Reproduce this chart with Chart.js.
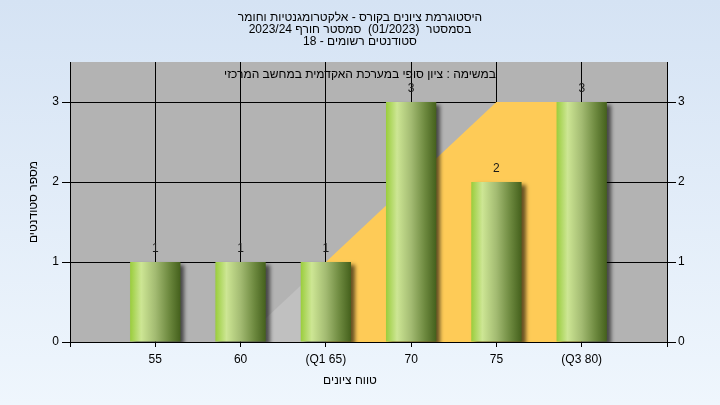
<!DOCTYPE html>
<html>
<head>
<meta charset="utf-8">
<script src="https://cdn.jsdelivr.net/npm/chart.js@4.4.1/dist/chart.umd.min.js"></script>
<style>
html,body{margin:0;padding:0;background:#e3edf8;}
#wrap{width:720px;height:405px;}
</style>
</head>
<body>
<div id="wrap"><canvas id="c" width="720" height="405"></canvas></div>
<script>
// ---- data ----
const categories = [55, 60, 65, 70, 75, 80];
const tickLabels = ['55', '60', '(Q1 65)', '70', '75', '(Q3 80)'];
const counts = [1, 1, 1, 3, 2, 3];
// background area (outside interquartile range)
const outerAreaX = [60, 65];
const outerAreaY = [0, 1];
// interquartile area
const iqrAreaX = [65, 75, 80, 80];
const iqrAreaY = [1, 3, 3, 0];
const yTicks = [0, 1, 2, 3];

const titleLines = [
  'היסטוגרמת ציונים בקורס - אלקטרומגנטיות וחומר',
  'בסמסטר  (01/2023)  סמסטר חורף 2023/24',
  'סטודנטים רשומים - 18'
];
const innerText = 'במשימה : ציון סופי במערכת האקדמית במחשב המרכזי';
const xTitle = 'טווח ציונים';
const yTitle = 'מספר סטודנטים';

const FONT = "'Liberation Sans', Arial, 'DejaVu Sans', sans-serif";
Chart.defaults.font.family = FONT;
Chart.defaults.font.size = 12;
Chart.defaults.color = '#000';

const BAR_PCT = 0.59;

function barGradient(ctx) {
  const chart = ctx.chart;
  const xs = chart.scales && chart.scales.x;
  if (!xs || ctx.dataIndex == null) return '#9c3';
  const v = categories[ctx.dataIndex];
  const half = 5 * BAR_PCT / 2;
  const x0 = xs.getPixelForValue(v - half);
  const x1 = xs.getPixelForValue(v + half);
  if (!isFinite(x0) || !isFinite(x1)) return '#9c3';
  const g = chart.ctx.createLinearGradient(x0, 0, x1, 0);
  g.addColorStop(0, '#9acd3c');
  g.addColorStop(0.22, '#cde694');
  g.addColorStop(0.5, '#a3bb72');
  g.addColorStop(0.78, '#6c883e');
  g.addColorStop(1, '#44601c');
  return g;
}

const bgPlugin = {
  id: 'bg',
  beforeDraw(chart) {
    const {ctx, width, height, chartArea: a} = chart;
    ctx.save();
    const g = ctx.createLinearGradient(0, 0, 0, height);
    g.addColorStop(0, '#d5e3f4');
    g.addColorStop(1, '#eff6fd');
    ctx.fillStyle = g;
    ctx.fillRect(0, 0, width, height);
    ctx.fillStyle = '#b3b3b3';
    ctx.fillRect(a.left, a.top, a.right - a.left, a.bottom - a.top);
    ctx.fillStyle = '#000';
    ctx.font = '12px ' + FONT;
    ctx.textAlign = 'center';
    ctx.textBaseline = 'middle';
    ctx.fillText(innerText, width / 2, a.top + 13);
    // x axis title
    ctx.fillText(xTitle, width / 2 - 10, height - 24);
    ctx.restore();
  }
};

const shadowPlugin = {
  id: 'shadow',
  beforeDatasetDraw(chart, args) {
    if (args.meta.type !== 'bar') return;
    const ctx = chart.ctx;
    ctx.save();
    ctx.shadowColor = 'rgba(0,0,0,0.6)';
    ctx.shadowBlur = 4;
    ctx.shadowOffsetX = 4;
    ctx.shadowOffsetY = 3;
  },
  afterDatasetDraw(chart, args) {
    if (args.meta.type !== 'bar') return;
    chart.ctx.restore();
  }
};

const labelPlugin = {
  id: 'vlabels',
  afterDatasetsDraw(chart) {
    const ctx = chart.ctx;
    chart.data.datasets.forEach((ds, di) => {
      const meta = chart.getDatasetMeta(di);
      if (meta.type !== 'bar') return;
      meta.data.forEach((el, i) => {
        ctx.save();
        ctx.fillStyle = '#1a1a1a';
        ctx.font = '12px ' + FONT;
        ctx.textAlign = 'center';
        ctx.textBaseline = 'bottom';
        ctx.fillText(String(counts[i]), el.x, el.y - 7);
        ctx.restore();
      });
    });
  }
};

const yCommon = {
  type: 'linear', min: 0, max: 3.5,
  ticks: {
    stepSize: 1, includeBounds: false, color: '#000', font: {size: 12},
    callback: v => (yTicks.includes(v) ? String(v) : '')
  },
  border: {color: '#000', width: 1}
};

new Chart(document.getElementById('c'), {
  type: 'bar',
  data: {
    datasets: [
      {
        type: 'bar',
        data: categories.map((c, i) => ({x: c, y: counts[i]})),
        backgroundColor: barGradient,
        borderWidth: 0,
        categoryPercentage: 1,
        barPercentage: BAR_PCT,
        order: 0
      },
      {
        type: 'line',
        data: outerAreaX.map((x, i) => ({x, y: outerAreaY[i]})),
        borderWidth: 0,
        borderColor: 'rgba(0,0,0,0)',
        backgroundColor: '#c0c0c0',
        fill: 'origin',
        pointRadius: 0,
        tension: 0,
        order: 2
      },
      {
        type: 'line',
        data: iqrAreaX.map((x, i) => ({x, y: iqrAreaY[i]})),
        borderWidth: 0,
        borderColor: 'rgba(0,0,0,0)',
        backgroundColor: '#fecb57',
        fill: 'origin',
        pointRadius: 0,
        tension: 0,
        order: 1
      }
    ]
  },
  options: {
    responsive: false,
    animation: false,
    layout: {padding: 0},
    plugins: {
      legend: {display: false},
      tooltip: {enabled: false},
      title: {
        display: true,
        text: titleLines,
        color: '#000',
        font: {size: 12, weight: 'normal', lineHeight: 1},
        padding: {top: 12, bottom: 14}
      }
    },
    scales: {
      x: {
        type: 'linear', min: 50, max: 85, offset: false,
        ticks: {
          stepSize: 5, autoSkip: false, maxRotation: 0, padding: 5, color: '#000',
          font: {size: 12},
          callback: v => { const i = categories.indexOf(v); return i < 0 ? '' : tickLabels[i]; }
        },
        grid: {color: '#000', lineWidth: 1, tickLength: 5, tickColor: '#000', offset: false},
        border: {color: '#000', width: 1},
        title: {display: false},
        afterFit: s => { s.height = 63; }
      },
      y: Object.assign({}, yCommon, {
        position: 'left',
        ticks: Object.assign({}, yCommon.ticks, {padding: 3}),
        grid: {color: '#000', lineWidth: 1, tickLength: 8, tickColor: '#000'},
        title: {display: true, text: yTitle, color: '#000', font: {size: 12}, padding: {top: 26, bottom: 0}},
        afterFit: s => { s.width = 70; }
      }),
      y2: Object.assign({}, yCommon, {
        position: 'right',
        ticks: Object.assign({}, yCommon.ticks, {padding: 2}),
        grid: {drawOnChartArea: false, tickLength: 9, tickColor: '#000', color: '#000'},
        afterFit: s => { s.width = 53; }
      })
    }
  },
  plugins: [bgPlugin, shadowPlugin, labelPlugin]
});
</script>
</body>
</html>
